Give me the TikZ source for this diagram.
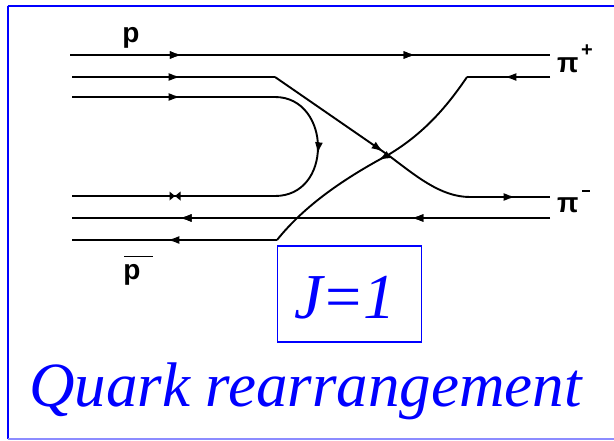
\documentclass[tikz,border=0pt]{standalone}
\usepackage{fontspec}
\setmainfont{Liberation Serif}
\newfontfamily\labelfont{Liberation Sans}
\usetikzlibrary{arrows.meta,decorations.markings}
\definecolor{frameblue}{RGB}{0,0,255}
\tikzset{
  quark/.style={line width=1.9pt},
  tipat/.style={decoration={markings,mark=at position #1 with {\arrow{Latex[length=12pt,width=8pt]}}},postaction={decorate}},
  lbl/.style={font=\labelfont\bfseries\fontsize{28}{30}\selectfont, inner sep=0pt},
  bluetext/.style={text=frameblue, font=\itshape, inner sep=0pt}
}
\begin{document}
\begin{tikzpicture}[x=1pt,y=-1pt]
\useasboundingbox (0,0) rectangle (614,440);
% frame
\draw[frameblue, line width=2pt] (7.5,5.5) -- (616,5.5);
\draw[frameblue, line width=2pt] (7.5,5.5) -- (7.5,439);
\draw[frameblue!45, line width=1.5pt] (7.5,439) -- (616,439);

% coordinates
\coordinate (a1) at (70,55);   \coordinate (b1) at (550,55);
\coordinate (a2) at (72,77);   \coordinate (k2) at (275,77);
\coordinate (x)  at (388,155);
\coordinate (m2) at (470,197); \coordinate (b2) at (550,197);
\coordinate (a3) at (72,97);   \coordinate (k3) at (275,97);
\coordinate (r3) at (318,147);
\coordinate (k4) at (275,196); \coordinate (a4) at (72,196);
\coordinate (b5) at (550,218); \coordinate (a5) at (72,218);
\coordinate (b6) at (550,77);  \coordinate (m6) at (467,77);
\coordinate (k6) at (277,240); \coordinate (a6) at (72,240);

% top quark line
\draw[quark, tipat=0.233, tipat=0.72] (a1) -- (b1);
% second quark line -> pi-
\draw[quark, tipat=0.535] (a2) -- (k2);
\draw[quark, tipat=0.96] (k2) -- (x);
\draw[quark] (x) .. controls (415,175) and (440,197) .. (m2);
\draw[quark, tipat=0.57] (m2) -- (b2);
% annihilation loop
\draw[quark, tipat=0.535] (a3) -- (k3);
\draw[quark] (k3) .. controls (303,97) and (318,122) .. (r3);
\draw[quark, tipat=0.1] (r3) .. controls (318,173) and (303,196) .. (k4);
\draw[quark] (k4) -- (a4);
\fill (175,196) -- (169.5,191.5) -- (169.5,200.5) -- cycle;
\fill (175,196) -- (180.5,191.5) -- (180.5,200.5) -- cycle;
% antiquark line straight through
\draw[quark, tipat=0.29, tipat=0.775] (b5) -- (a5);
% antiquark line from pi+
\draw[quark, tipat=0.55] (b6) -- (m6);
\draw[quark] (m6) .. controls (448,105) and (425,133) .. (x);
\draw[quark, tipat=0.08] (x) .. controls (345,178) and (305,205) .. (k6);
\draw[quark, tipat=0.535] (k6) -- (a6);

% labels
\node[lbl, anchor=base] (p) at (131,42) {p};
\node[lbl, anchor=base] (pbar) at (132,279) {p};
\draw[line width=1.8pt] (124,256.5) -- (153,256.5);
\node[lbl, anchor=base west] (pip) at (557,72) {π};
\node[lbl, anchor=base west] (pim) at (557,212) {π};
\node[font=\labelfont\bfseries\fontsize{20}{22}\selectfont, inner sep=0pt] (plus) at (587,51) {+};
\draw[line width=2pt] (582,190.5) -- (590,190.5);

% J=1 box
\node[draw=frameblue, line width=1.3pt, minimum width=144pt, minimum height=96pt, inner sep=0pt] (jbox) at (349.5,294) {};
\node[bluetext, font=\itshape\fontsize{64}{66}\selectfont, anchor=base] (jtext) at (345,318) {J\kern-2pt=\kern-1pt1};
% title
\node[bluetext, font=\itshape\fontsize{63}{66}\selectfont, anchor=base west] (title) at (29,406) {Quark rearrangement};
\end{tikzpicture}
\end{document}
